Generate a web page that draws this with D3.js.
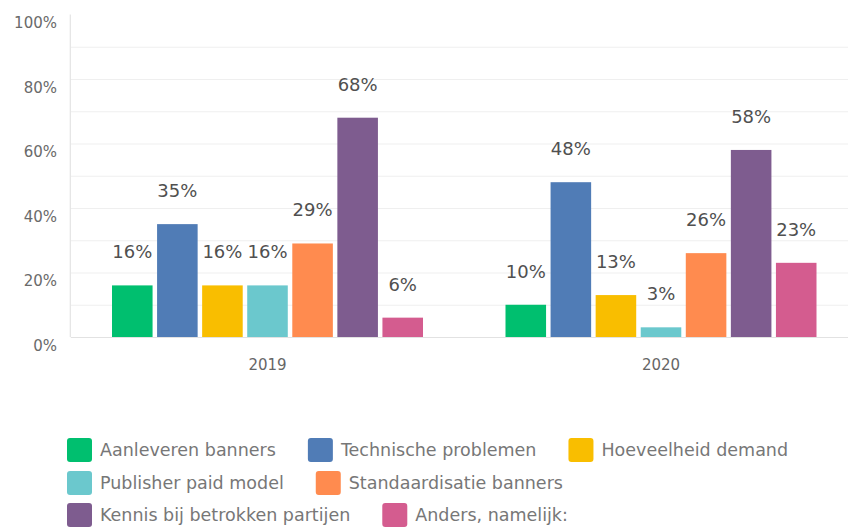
<!DOCTYPE html>
<html>
<head>
<meta charset="utf-8">
<script src="https://cdn.jsdelivr.net/npm/d3@7"></script>
<style>
  html, body { margin: 0; padding: 0; background: #fff; }
  svg { display: block; font-family: "DejaVu Sans", sans-serif; }
</style>
</head>
<body>
<svg id="chart" width="848" height="530"></svg>
<script>
// Survey answers per year (percent of respondents)
const years = ["2019", "2020"];
const categories = [
  "Aanleveren banners",
  "Technische problemen",
  "Hoeveelheid demand",
  "Publisher paid model",
  "Standaardisatie banners",
  "Kennis bij betrokken partijen",
  "Anders, namelijk:"
];
const values2019 = [16, 35, 16, 16, 29, 68, 6];
const values2020 = [10, 48, 13, 3, 26, 58, 23];
const colors = ["#00BF6F", "#507CB6", "#F9BE00", "#6BC8CD", "#FF8B4F", "#7E5C8F", "#D45C8F"];
const yTicks = [0, 20, 40, 60, 80, 100];
const gridTicks = [10, 20, 30, 40, 50, 60, 70, 80, 90];

const seriesByYear = { "2019": values2019, "2020": values2020 };

const svg = d3.select("#chart");
const plot = { left: 70.75, right: 857.75, top: 14.5, bottom: 337 };

const x0 = d3.scaleBand().domain(years).range([plot.left, plot.right]);
const groupWidth = 311;
const x1 = d3.scaleBand().domain(categories)
  .range([(x0.bandwidth() - groupWidth) / 2, (x0.bandwidth() + groupWidth) / 2])
  .paddingInner(0.1);
const y = d3.scaleLinear().domain([0, 100]).range([plot.bottom, plot.top]);
const color = d3.scaleOrdinal().domain(categories).range(colors);

// light horizontal gridlines
const grid = svg.append("g")
  .attr("transform", `translate(${plot.left},0)`)
  .call(d3.axisLeft(y).tickValues(gridTicks).tickSize(-(848 - plot.left)).tickFormat(""));
grid.select(".domain").remove();
grid.selectAll(".tick line").attr("stroke", "#efefef").attr("stroke-width", 1);

// vertical axis line and baseline
svg.append("line")
  .attr("x1", plot.left - 0.5).attr("x2", plot.left - 0.5)
  .attr("y1", y(100)).attr("y2", y(0))
  .attr("stroke", "#dedede");
svg.append("line")
  .attr("x1", plot.left).attr("x2", 848)
  .attr("y1", y(0) + 0.5).attr("y2", y(0) + 0.5)
  .attr("stroke", "#e2e2e2");

// y tick labels
const yAxis = svg.append("g")
  .attr("transform", `translate(57,0)`)
  .call(d3.axisLeft(y).tickValues(yTicks).tickSize(0).tickPadding(0).tickFormat(d => d + "%"));
yAxis.select(".domain").remove();
yAxis.selectAll("text")
  .attr("font-family", "DejaVu Sans, sans-serif")
  .attr("font-size", 15)
  .attr("fill", "#6a6a6a")
  .attr("dy", 13)
  .attr("text-anchor", "end");

// x labels
const xAxis = svg.append("g")
  .attr("transform", `translate(0,${plot.bottom})`)
  .call(d3.axisBottom(x0).tickSize(0).tickPadding(0));
xAxis.select(".domain").remove();
xAxis.selectAll("text")
  .attr("font-family", "DejaVu Sans, sans-serif")
  .attr("font-size", 15)
  .attr("fill", "#666")
  .attr("dy", 0)
  .attr("y", 33);

// grouped bars
const groups = svg.append("g").selectAll("g")
  .data(years)
  .join("g")
  .attr("transform", d => `translate(${x0(d)},0)`);

const rows = groups.selectAll("g")
  .data(yr => categories.map((c, i) => ({ year: yr, cat: c, value: seriesByYear[yr][i] })))
  .join("g");

rows.append("rect")
  .attr("x", d => x1(d.cat))
  .attr("width", x1.bandwidth())
  .attr("y", d => y(d.value))
  .attr("height", d => y(0) - y(d.value))
  .attr("fill", d => color(d.cat));

rows.append("text")
  .attr("x", d => x1(d.cat) + x1.bandwidth() / 2)
  .attr("y", d => y(d.value) - 27)
  .attr("text-anchor", "middle")
  .attr("font-size", 18)
  .attr("fill", "#505050")
  .text(d => d.value + "%");

// legend, laid out as a wrapping flow
const legend = svg.append("g");
const rowYs = [450, 483, 515];
let lx = 67, row = 0;
const maxRight = 840;
categories.forEach((c, i) => {
  const item = legend.append("g");
  item.append("rect")
    .attr("width", 25).attr("height", 24).attr("rx", 3)
    .attr("fill", color(c));
  const t = item.append("text")
    .attr("x", 33).attr("y", 12).attr("dy", "0.35em")
    .attr("font-size", 17.5)
    .attr("fill", "#777")
    .text(c);
  const w = 33 + t.node().getComputedTextLength();
  if (lx + w > maxRight) { row += 1; lx = 67; }
  item.attr("transform", `translate(${lx},${rowYs[row] - 12})`);
  lx += w + 32;
});
</script>
</body>
</html>
